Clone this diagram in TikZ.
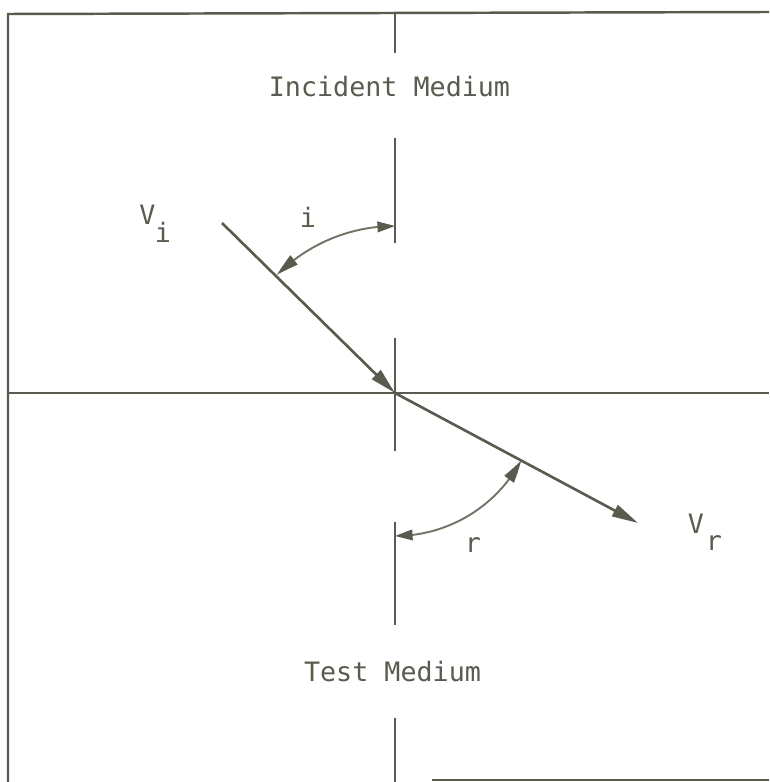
\documentclass[tikz,border=0pt]{standalone}
\usepackage{fontspec}
\setmonofont{DejaVu Sans Mono}
\usetikzlibrary{arrows.meta,bending}
\definecolor{ink}{RGB}{90,90,78}
\definecolor{arcink}{RGB}{115,115,102}
\begin{document}
\begin{tikzpicture}[x=0.02cm,y=0.02cm,
  frame/.style={draw=ink, line width=1.4pt},
  ray/.style={draw=ink, line width=1.5pt},
  angarc/.style={draw=arcink, line width=1.1pt},
  bigtip/.style={-{Triangle[length=15pt,width=7pt]}},
  arctips/.style={{Triangle[length=13pt,width=6.5pt,bend,color=ink]}-{Triangle[length=10pt,width=6pt,color=ink]}},
  lbl/.style={text=ink, font=\ttfamily\fontsize{15.2}{18}\selectfont, inner sep=0pt, anchor=base}]
\useasboundingbox (0,0) rectangle (769,782);
% frame
\coordinate (TL) at (8,768);
\coordinate (TR) at (769,770);
\coordinate (BL) at (8,0);
\coordinate (BLs) at (432,2);
\coordinate (BR) at (769,2);
\draw[frame] (BL) -- (TL) -- (TR);
\draw[frame] (BLs) -- (BR);
% interface
\coordinate (HL) at (8,389);
\coordinate (HR) at (769,389);
\coordinate (O) at (395,389);
\draw[frame] (HL) -- (HR);
% normal (broken)
\coordinate (N1a) at (395,768); \coordinate (N1b) at (395,729);
\coordinate (N2a) at (395,644); \coordinate (N2b) at (395,539);
\coordinate (N3a) at (395,444); \coordinate (N3b) at (395,331);
\coordinate (N4a) at (395,260); \coordinate (N4b) at (395,157);
\coordinate (N5a) at (395,64);  \coordinate (N5b) at (395,0);
\draw[frame] (N1a) -- (N1b);
\draw[frame] (N2a) -- (N2b);
\draw[frame] (N3a) -- (N3b);
\draw[frame] (N4a) -- (N4b);
\draw[frame] (N5a) -- (N5b);
% rays
\coordinate (IS) at (222,559);
\coordinate (RE) at (638,259);
\draw[ray,bigtip] (IS) -- (O);
\draw[ray,bigtip] (O) -- (RE);
% angle arcs
\draw[angarc,arctips]
  ([shift={(135:167)}]O) arc[start angle=135, end angle=90, radius=167];
\draw[angarc,arctips]
  ([shift={(-28:143)}]O) arc[start angle=-28, end angle=-90, radius=143];
% labels
\node[lbl] (inc) at (389.5,685) {Incident Medium};
\node[lbl] (test) at (392.5,100) {Test Medium};
\node[lbl] (vi) at (147.5,557) {V};
\node[lbl] (vis) at (163,539) {i};
\node[lbl] (ilab) at (308,554) {i};
\node[lbl] (rlab) at (473,229) {r};
\node[lbl] (vr) at (696,248) {V};
\node[lbl] (vrs) at (714,231) {r};
\end{tikzpicture}
\end{document}
